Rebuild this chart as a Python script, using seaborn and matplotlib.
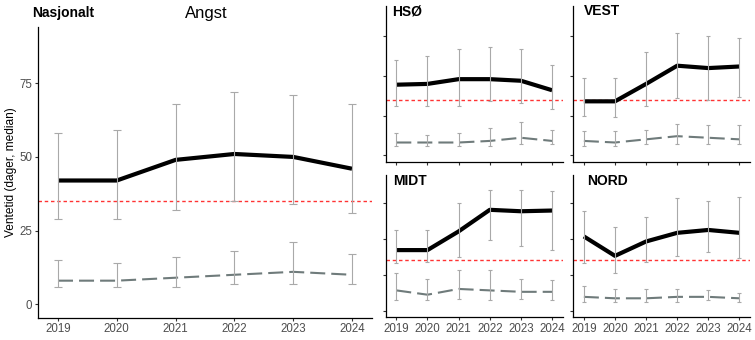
import matplotlib
matplotlib.use("Agg")
import matplotlib.pyplot as plt
import seaborn as sns
import pandas as pd
import numpy as np

sns.set_theme(style="white")
plt.rcParams['font.family'] = ['Liberation Sans', 'DejaVu Sans']

years = [2019, 2020, 2021, 2022, 2023, 2024]
target = 35

nas_med = [42, 42, 49, 51, 50, 46]
nas_lo = [29, 29, 32, 35, 34, 31]
nas_hi = [58, 59, 68, 72, 71, 68]
nas2_med = [8, 8, 9, 10, 11, 10]
nas2_lo = [6, 6, 6, 7, 7, 7]
nas2_hi = [15, 14, 16, 18, 21, 17]

hso_med = [44.5, 45, 48, 48, 47, 41]
hso_lo = [31, 31, 31, 34, 33, 29]
hso_hi = [60, 62.5, 67, 68, 67, 57]
hso2_med = [8, 8, 8, 9, 11, 9]
hso2_lo = [6, 6, 6, 6, 7, 7]
hso2_hi = [14, 13, 14, 17, 21, 16]

vest_med = [34, 34, 45, 56.5, 55, 56]
vest_lo = [25, 24, 31, 36, 35, 37]
vest_hi = [49, 49, 65, 77, 75, 74]
vest2_med = [9, 8, 10, 12, 11, 10]
vest2_lo = [6, 6, 7, 7, 7, 7]
vest2_hi = [15, 15, 16, 20, 19, 19]

midt_med = [42, 42, 55, 70, 69, 69.5]
midt_lo = [33, 34, 37, 49, 45, 42]
midt_hi = [56, 56, 75, 84, 84, 83]
midt2_med = [14, 11, 15, 14, 13, 13]
midt2_lo = [7, 7, 8, 7, 8, 7]
midt2_hi = [26, 22, 28, 28, 22, 21]

nord_med = [51.5, 38, 48, 54, 56, 54]
nord_lo = [33, 26, 34, 38, 41, 36.5]
nord_hi = [69, 58, 65, 78.5, 76, 79]
nord2_med = [9.5, 8.5, 8.5, 9.5, 9.5, 8.5]
nord2_lo = [6, 6, 6, 6, 7, 6]
nord2_hi = [17, 15, 15, 15, 14, 12]

yticks = [0, 25, 50, 75]

W, H = 755, 340
fig = plt.figure(figsize=(W / 100, H / 100), dpi=100)


def px_axes(x0, x1, ytop, ybot):
    return fig.add_axes([x0 / W, (H - ybot) / H, (x1 - x0) / W, (ybot - ytop) / H])


def draw(ax, med, lo, hi, med2, lo2, hi2, xlabels, ylabels, cap):
    df1 = pd.DataFrame({"year": years, "v": med})
    df2 = pd.DataFrame({"year": years, "v": med2})
    sns.lineplot(data=df1, x="year", y="v", ax=ax, color="black", lw=3.0,
                 solid_joinstyle="round", solid_capstyle="butt", zorder=3)
    sns.lineplot(data=df2, x="year", y="v", ax=ax, color="#6F7B7B", lw=1.5,
                 dashes=False, zorder=3, linestyle=(0, (7.2, 2.9)))
    for m, l, h in [(med, lo, hi), (med2, lo2, hi2)]:
        m = np.array(m); l = np.array(l); h = np.array(h)
        ax.errorbar(years, m, yerr=[m - l, h - m], fmt="none", ecolor="#A9A9A9",
                    elinewidth=0.8, capsize=cap, capthick=0.8, zorder=4)
    ax.axhline(target, color="#FF3333", lw=1.0, linestyle=(0, (2.5, 2.0)), zorder=2)
    ax.set_xlim(2018.66, 2024.34)
    ax.set_ylim(-4.5, 94.2)
    ax.set_xticks(years)
    ax.set_yticks(yticks)
    ax.set_xlabel("")
    ax.set_ylabel("")
    if xlabels:
        ax.set_xticklabels([str(y) for y in years])
    else:
        ax.set_xticklabels([])
    if not ylabels:
        ax.set_yticklabels([])
    for s in ["top", "right"]:
        ax.spines[s].set_visible(False)
    for s in ["left", "bottom"]:
        ax.spines[s].set_color("black")
        ax.spines[s].set_linewidth(0.9)
    ax.tick_params(axis="both", which="both", length=2.2, width=0.8, color="#333333",
                   labelsize=8.3, labelcolor="#4D4D4D", pad=2, left=True, bottom=True)
    ax.grid(False)


ax0 = px_axes(38, 372, 26.7, 317.5)
draw(ax0, nas_med, nas_lo, nas_hi, nas2_med, nas2_lo, nas2_hi, True, True, 3.2)
ax0.set_ylabel("Ventetid (dager, median)", fontsize=8.6, color="black")
ax0.yaxis.set_label_coords((17 - 38) / 334, 0.5)

ax1 = px_axes(385.7, 562.7, 6, 162.3)
draw(ax1, hso_med, hso_lo, hso_hi, hso2_med, hso2_lo, hso2_hi, False, False, 1.7)
ax2 = px_axes(573.3, 750, 6, 162.3)
draw(ax2, vest_med, vest_lo, vest_hi, vest2_med, vest2_lo, vest2_hi, False, False, 1.7)
ax3 = px_axes(385.7, 562.7, 175, 317.0)
draw(ax3, midt_med, midt_lo, midt_hi, midt2_med, midt2_lo, midt2_hi, True, False, 1.7)
ax4 = px_axes(573.3, 750, 175, 317.0)
draw(ax4, nord_med, nord_lo, nord_hi, nord2_med, nord2_lo, nord2_hi, True, False, 1.7)


def ftext(x, y, s, **kw):
    fig.text(x / W, (H - y) / H, s, **kw)


ftext(32, 12.5, "Nasjonalt", fontsize=10, fontweight="bold", va="center", ha="left", color="black")
ftext(206, 13.5, "Angst", fontsize=12, va="center", ha="center", color="black")
ftext(392.5, 11, "HSØ", fontsize=10, fontweight="bold", va="center", ha="left", color="black")
ftext(583.5, 11, "VEST", fontsize=10, fontweight="bold", va="center", ha="left", color="black")
ftext(393.5, 181, "MIDT", fontsize=10, fontweight="bold", va="center", ha="left", color="black")
ftext(587.5, 181, "NORD", fontsize=10, fontweight="bold", va="center", ha="left", color="black")

fig.savefig("out.png", dpi=100, facecolor="white")
